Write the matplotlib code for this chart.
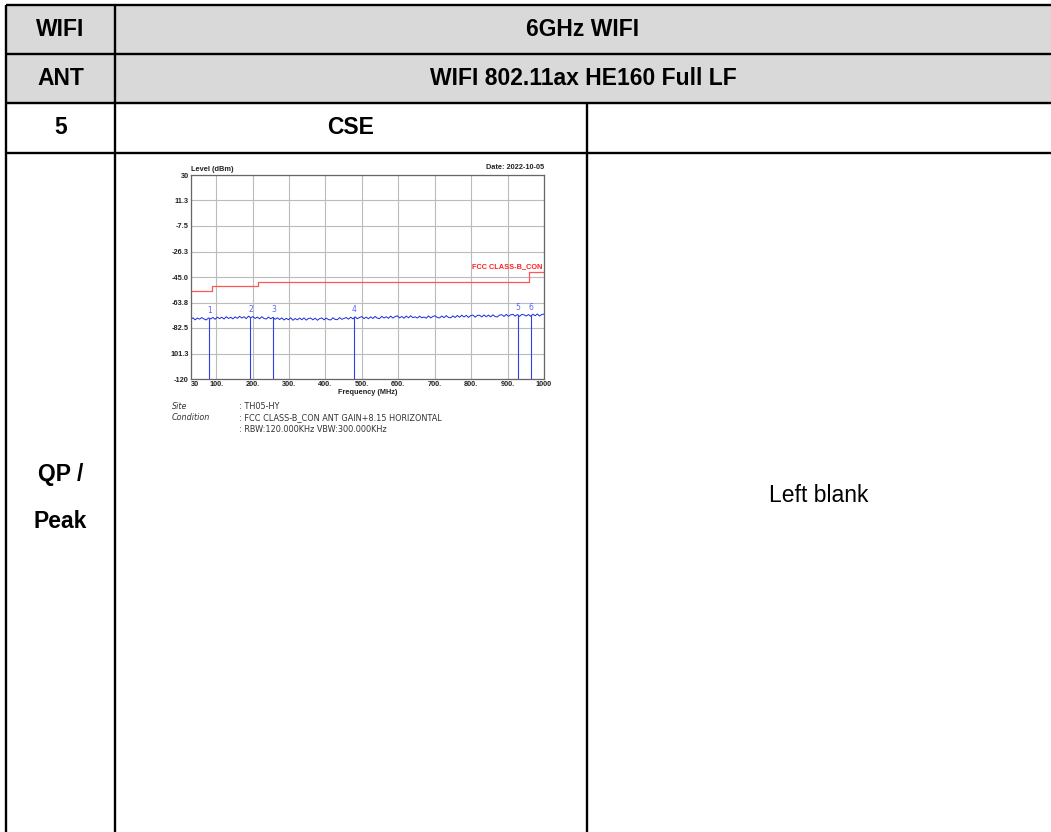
import numpy as np
import matplotlib
matplotlib.use("Agg")
import matplotlib.pyplot as plt

# table text
row_heads = ["WIFI", "ANT", "5"]
row_texts = ["6GHz WIFI", "WIFI 802.11ax HE160 Full LF", "CSE"]
last_head = "QP /\nPeak"
blank_text = "Left blank"

# chart data
y_ticks = [30, 11.3, -7.5, -26.3, -45.0, -63.8, -82.5, -101.3, -120]
y_tick_labels = ["30", "11.3", "-7.5", "-26.3", "-45.0", "-63.8", "-82.5", "101.3", "-120"]
x_ticks = [30, 100, 200, 300, 400, 500, 600, 700, 800, 900, 1000]
x_tick_labels = ["30", "100.", "200.", "300.", "400.", "500.", "600.", "700.", "800.", "900.", "1000"]

limit_freq = [30, 88, 88, 216, 216, 960, 960, 1000]
limit_level = [-55.0, -55.0, -51.5, -51.5, -49.0, -49.0, -41.0, -41.0]

trace_level = [
    -76.3, -75.0, -76.5, -75.2, -76.0, -74.8, -75.9, -76.6, -75.1, -75.8,
    -74.7, -76.1, -74.5, -75.6, -74.6, -75.9, -74.2, -75.5, -74.6, -75.8,
    -74.3, -75.4, -73.9, -75.2, -74.2, -75.6, -73.8, -75.0, -74.1, -75.5,
    -74.5, -75.7, -74.2, -75.5, -75.9, -74.5, -75.7, -74.7, -76.1, -75.0,
    -76.3, -75.1, -76.6, -75.4, -76.4, -75.0, -76.8, -75.5, -76.5, -75.2,
    -76.4, -75.1, -76.7, -75.5, -75.2, -76.5, -75.3, -76.8, -75.6, -75.1,
    -76.5, -75.2, -76.3, -76.6, -75.0, -76.2, -76.4, -74.9, -76.1, -75.5,
    -74.8, -76.0, -74.6, -75.8, -74.3, -75.7, -74.7, -74.1, -75.6, -74.5,
    -75.7, -74.3, -75.5, -74.0, -75.3, -75.6, -73.9, -75.2, -74.2, -75.4,
    -73.8, -75.2, -74.1, -73.6, -75.1, -74.0, -75.3, -73.7, -75.0, -73.5,
    -74.9, -74.3, -75.2, -73.8, -75.0, -74.4, -75.3, -73.6, -75.1, -74.0,
    -73.5, -74.8, -75.1, -73.7, -74.9, -73.4, -74.7, -75.0, -73.6, -74.8,
    -73.3, -74.6, -73.1, -74.4, -73.2, -74.7, -73.4, -73.0, -74.5, -73.3,
    -73.1, -74.4, -72.9, -74.2, -73.0, -74.3, -72.8, -74.1, -74.4, -73.0,
    -72.7, -74.0, -72.5, -73.9, -72.8, -72.4, -73.8, -72.6, -74.0, -72.5,
    -72.8, -73.7, -72.6, -73.9, -72.4, -73.5, -72.2, -73.7, -72.5, -72.3,
]
trace_freq = np.linspace(30, 1000, len(trace_level))

marker_ids = ["1", "2", "3", "4", "5", "6"]
marker_freq = [81, 194, 257, 478, 929, 963]
marker_level = [-74.8, -74.2, -74.6, -74.3, -73.2, -73.0]

W, H = 1051, 832
fig = plt.figure(figsize=(W / 100, H / 100), dpi=100)

# ---- table drawn in pixel coordinates ----
tab = fig.add_axes([0, 0, 1, 1])
tab.set_xlim(0, W)
tab.set_ylim(H, 0)
tab.axis("off")

x0, x1, x2, xr = 6, 115, 587, W
rows = [5, 54, 103, 153]
tab.fill_between([x0, xr], rows[0], rows[2], color="#D9D9D9", zorder=0)
lw = 1.7
for y in rows:
    tab.plot([x0, xr], [y, y], color="black", lw=lw, solid_capstyle="butt")
tab.plot([x0, x0], [rows[0], H], color="black", lw=lw, solid_capstyle="butt")
tab.plot([x1, x1], [rows[0], H], color="black", lw=lw, solid_capstyle="butt")
tab.plot([x2, x2], [rows[2], H], color="black", lw=lw, solid_capstyle="butt")

font = "Liberation Sans"
fs = 16.5
for i in range(3):
    yc = (rows[i] + rows[i + 1]) / 2
    tab.text((x0 + x1) / 2, yc, row_heads[i], ha="center", va="center",
             fontsize=fs, fontweight="bold", family=font)
    xe = xr if i < 2 else x2
    tab.text((x1 + xe) / 2, yc, row_texts[i], ha="center", va="center",
             fontsize=fs, fontweight="bold", family=font)
tab.text((x0 + x1) / 2, 498, last_head, ha="center", va="center",
         fontsize=fs, fontweight="bold", family=font, linespacing=2.3)
tab.text((x2 + xr) / 2, 495, blank_text, ha="center", va="center",
         fontsize=fs, family=font)

# ---- embedded spectrum chart ----
l, r, t, b = 190.7, 544.0, 175.0, 379.0
ax = fig.add_axes([l / W, 1 - b / H, (r - l) / W, (b - t) / H])
ax.set_xlim(30, 1000)
ax.set_ylim(-120, 30)
ax.set_xticks(x_ticks)
ax.set_xticklabels(x_tick_labels)
ax.set_yticks(y_ticks)
ax.set_yticklabels(y_tick_labels)
ax.tick_params(length=0, labelsize=5.3, pad=1.5, colors="#222222")
for lab in ax.get_xticklabels() + ax.get_yticklabels():
    lab.set_fontweight("bold")
    lab.set_family(font)
ax.get_xticklabels()[0].set_horizontalalignment("left")
ax.grid(True, color="#BBBBBB", lw=0.8)
for s in ax.spines.values():
    s.set_color("#666666")
    s.set_linewidth(0.9)

ax.plot(limit_freq, limit_level, color="#FF5555", lw=0.9)
ax.plot(trace_freq, trace_level, color="#1A2BD8", lw=0.7)
for mid, f, lv in zip(marker_ids, marker_freq, marker_level):
    ax.plot([f, f], [-120, lv], color="#3040E8", lw=0.8)
    ax.text(f, lv + 2.2, mid, color="#5565FF", fontsize=5.5, ha="center",
            va="bottom", family="DejaVu Sans")

ax.text(995, -39.8, "FCC CLASS-B_CON", color="#FF2020", fontsize=5.3,
        fontweight="bold", ha="right", va="bottom", family=font)
ax.text(0.0, 1.01, "Level (dBm)", transform=ax.transAxes, fontsize=5.3,
        fontweight="bold", ha="left", va="bottom", family=font, color="#222222")
ax.text(1.0, 1.02, "Date: 2022-10-05", transform=ax.transAxes, fontsize=5.3,
        fontweight="bold", ha="right", va="bottom", family=font, color="#222222")
ax.set_xlabel("Frequency (MHz)", fontsize=5.3, fontweight="bold", family=font,
              labelpad=0.5, color="#222222")

# info lines under the chart
info = [("Site", ": TH05-HY", 406.7),
        ("Condition", ": FCC CLASS-B_CON ANT GAIN+8.15 HORIZONTAL", 418.0),
        ("", ": RBW:120.000KHz VBW:300.000KHz", 429.3)]
for name, val, y in info:
    tab.text(172, y, name, fontsize=5.8, style="italic", va="center",
             family="DejaVu Sans", color="#333333")
    tab.text(239, y, val, fontsize=5.9, va="center",
             family="DejaVu Sans", color="#333333")

fig.savefig("out.png", dpi=100)
